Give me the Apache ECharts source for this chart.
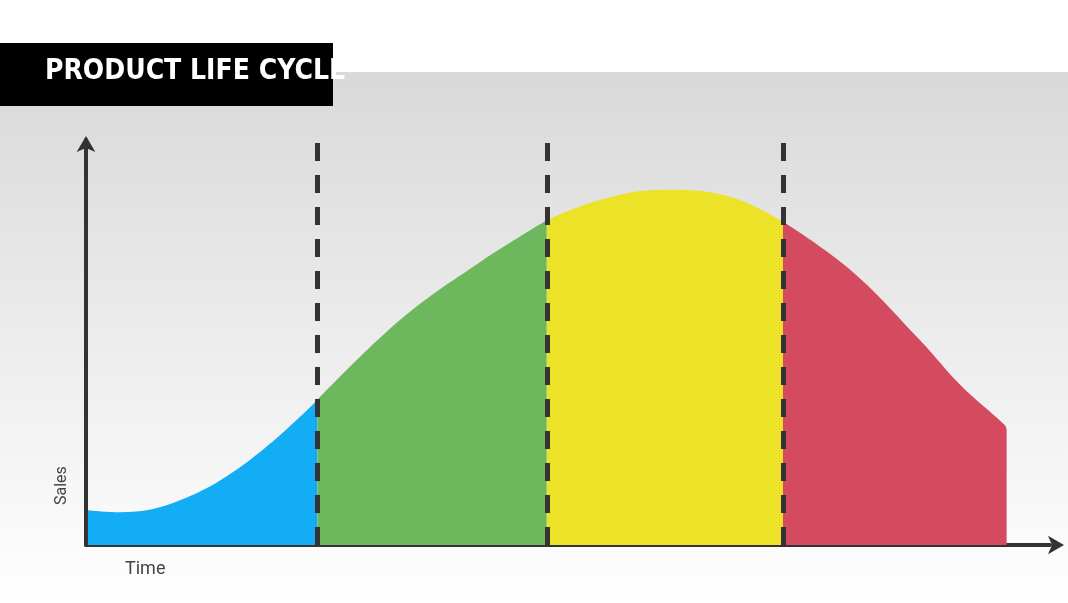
<!DOCTYPE html>
<html><head><meta charset="utf-8">
<script src="https://cdn.jsdelivr.net/npm/echarts@6/dist/echarts.min.js"></script>
<style>html,body{margin:0;padding:0;background:#fff}#c{width:1068px;height:603px}</style>
</head><body><div id="c"></div>
<script>
const stageNames = ['INTRODUCTION','GROWTH','MATURITY','DECLINE'];
const stageColors = ['#12adf5','#6db75c','#ece328','#d44b60'];
const boundaries = [24, 47.8, 72.3];
const introduction = [[0.2,8.6],[3.5,8.1],[9.8,11.1],[17,21],[24,35.8]];
const growth = [[24,35.8],[32.6,55.6],[40.9,69.9],[47.8,80.2]];
const maturity = [[47.8,80.2],[53.3,85.2],[60,87.7],[66.8,86],[72.3,79.8]];
const decline = [[72.3,79.8],[79.3,67.9],[86.5,50.6],[90.7,39.5],[95.3,29.6],[95.5,28.5]];
const stageData = [introduction, growth, maturity, decline];
const stageEnds = [[0.2,24],[24,47.8],[47.8,72.3],[72.3,95.5]];

const chart = echarts.init(document.getElementById('c'));
const series = stageData.map((d,i)=>({
  type:'line', data:d, smooth:0.4, symbol:'none', z:2,
  lineStyle:{width:0}, areaStyle:{color:stageColors[i],opacity:1},
  markArea:{silent:true, itemStyle:{color:'rgba(0,0,0,0)'},
    label:{show:true,position:'insideBottom',distance:10,color:'#333',fontWeight:'bold',fontSize:17,fontFamily:'Roboto'},
    data:[[{name:stageNames[i],xAxis:stageEnds[i][0],yAxis:0},{xAxis:stageEnds[i][1],yAxis:100}]]}
}));
series.push({type:'line',data:[],z:5,markLine:{silent:true,symbol:'none',
  lineStyle:{color:'#333',width:5,type:[18,14]},label:{show:false},
  data:boundaries.map(b=>({xAxis:b}))}});
chart.setOption({
  animation:false,
  graphic:[
    {type:'rect',z:-10,shape:{x:0,y:72,width:1068,height:531},
     style:{fill:new echarts.graphic.LinearGradient(0,0,0,1,[{offset:0,color:'#d9d9d9'},{offset:1,color:'#ffffff'}])}},
    {type:'rect',z:10,shape:{x:0,y:43,width:333,height:63},style:{fill:'#000'}},
    {type:'text',z:11,left:45,top:58,style:{text:'PRODUCT LIFE CYCLE',fill:'#fff',font:'bold 28px "Liberation Sans Narrow", "DejaVu Sans Condensed", sans-serif'}},
    {type:'text',z:11,left:125,top:560,style:{text:'Time',fill:'#444',font:'18px Roboto'}},
    {type:'text',z:11,x:54,y:505,rotation:Math.PI/2,style:{text:'Sales',fill:'#444',font:'16px Roboto'}}
  ],
  grid:{left:86,right:18,top:140,bottom:58},
  xAxis:{type:'value',min:0,max:100,axisLine:{lineStyle:{color:'#333',width:4},symbol:['none','arrow'],symbolSize:[14,16],symbolOffset:[0,14]},
    axisTick:{show:false},axisLabel:{show:false},splitLine:{show:false}},
  yAxis:{type:'value',min:0,max:100,axisLine:{show:true,lineStyle:{color:'#333',width:4},symbol:['none','arrow'],symbolSize:[14,16],symbolOffset:[0,4]},
    axisTick:{show:false},axisLabel:{show:false},splitLine:{show:false}},
  series
});
</script></body></html>
